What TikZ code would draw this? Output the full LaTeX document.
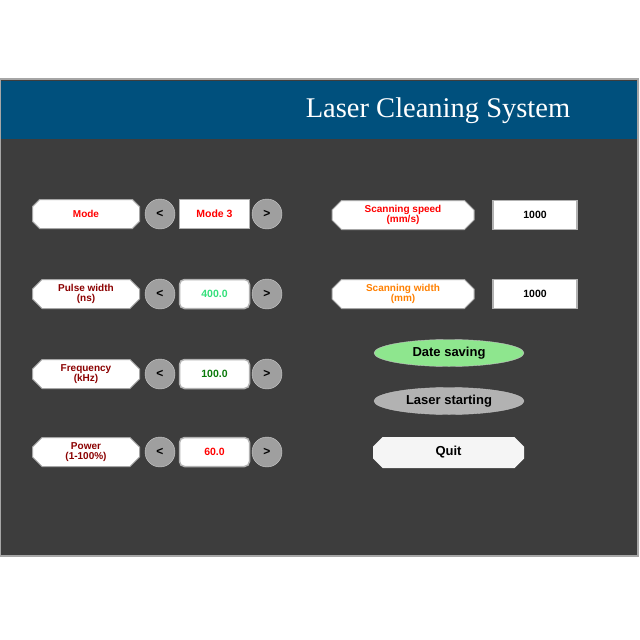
\documentclass[tikz,border=0pt]{standalone}
\usepackage{fontspec}
\setmainfont{Liberation Sans}
\newfontfamily\titlefont{Liberation Serif}
\usetikzlibrary{shapes.geometric,shapes.misc}
\definecolor{panelgrey}{HTML}{3D3D3D}
\definecolor{titleblue}{HTML}{00507D}
\definecolor{darkred}{HTML}{8B0000}
\definecolor{valgreen}{HTML}{33E07A}
\definecolor{darkgreen}{HTML}{0A7A0A}
\definecolor{saveg}{HTML}{8EE68E}
\tikzset{
  label box/.style={chamfered rectangle, chamfered rectangle xsep=6pt, chamfered rectangle angle=45,
    chamfered rectangle corners={north west,north east,south west,south east},
    draw=gray!70, line width=1pt, fill=white, minimum width=107pt, minimum height=29pt, inner sep=0pt,
    font=\bfseries\fontsize{10}{10.5}\selectfont, align=center},
  arrow btn/.style={circle, draw=gray!40, fill=gray!75, minimum size=30pt, inner sep=0pt, font=\bfseries\large},
  value box/.style={draw=gray!60, line width=1.5pt, fill=white, minimum width=70pt, minimum height=29pt, inner sep=0pt,
    font=\bfseries\fontsize{10.5}{11}\selectfont},
  oval btn/.style={ellipse, draw=gray!50, minimum width=150pt, minimum height=27pt, inner sep=0pt, font=\bfseries\fontsize{13}{14}\selectfont}
}
\begin{document}
\begin{tikzpicture}[x=1pt,y=-1pt]
\useasboundingbox (0,0) rectangle (640,640);
\fill[white] (0,0) rectangle (640,640);
\fill[panelgrey] (0,78) rectangle (638,556);
\draw[gray!70, line width=1.5pt] (0,79) rectangle (638,556);
\fill[titleblue] (1,81) rectangle (637,139);
\node[text=white, font=\titlefont\fontsize{28.5}{30}\selectfont] (title) at (438,111) {Laser Cleaning System};
% left column
\node[label box, text=red] (mode) at (86,214) {Mode};
\node[label box, text=darkred] (pulse) at (86,294) {Pulse width\\(ns)};
\node[label box, text=darkred] (freq) at (86,374) {Frequency\\(kHz)};
\node[label box, text=darkred] (power) at (86,452) {Power\\(1-100\%)};
\foreach \name/\y in {mode/214, pulse/294, freq/374, power/452} {
  \node[arrow btn] (\name less) at (160,\y) {<};
  \node[arrow btn] (\name more) at (267,\y) {>};
}
\node[value box, text=red] (modeval) at (214.5,214) {Mode 3};
\node[value box, rounded corners=5pt, text=valgreen] (pulseval) at (214.5,294) {400.0};
\node[value box, rounded corners=5pt, text=darkgreen] (freqval) at (214.5,374) {100.0};
\node[value box, rounded corners=5pt, text=red] (powerval) at (214.5,452) {60.0};
% right column
\node[label box, minimum width=142pt, text=red] (speed) at (403,215) {Scanning speed\\(mm/s)};
\node[label box, minimum width=142pt, text=orange] (width) at (403,294) {Scanning width\\(mm)};
\node[value box, minimum width=84pt] (speedval) at (535,215) {1000};
\node[value box, minimum width=84pt] (widthval) at (535,294) {1000};
\node[oval btn, fill=saveg] (save) at (449,353) {Date saving};
\node[oval btn, fill=gray!60] (start) at (449,401) {Laser starting};
\node[label box, draw=none, fill=gray!8, minimum width=151pt, minimum height=31pt, font=\bfseries\fontsize{13}{14}\selectfont] (quit) at (448.5,452.5) {Quit};
\end{tikzpicture}
\end{document}
